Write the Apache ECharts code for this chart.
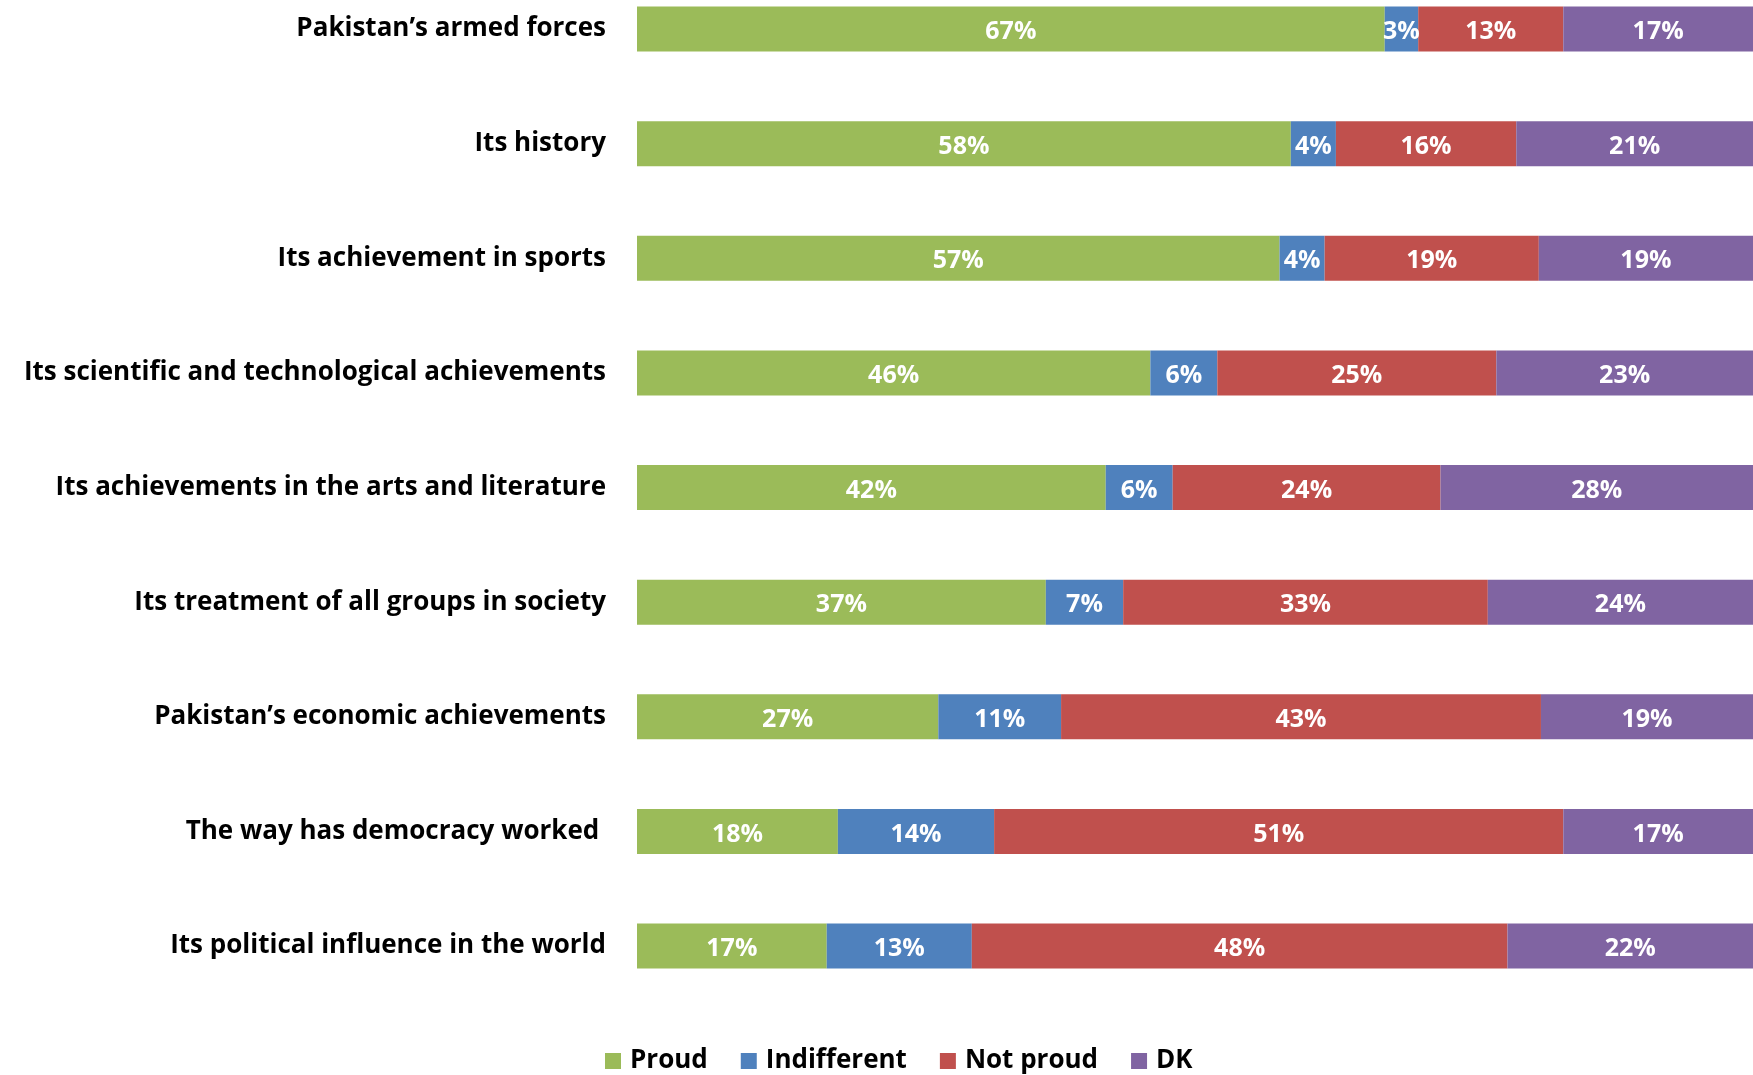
<!DOCTYPE html>
<html>
<head>
<meta charset="utf-8">
<script src="https://cdn.jsdelivr.net/npm/echarts@6/dist/echarts.min.js"></script>
<style>
  html, body { margin: 0; padding: 0; background: #fff; }
  #main { width: 1753px; height: 1075px; }
</style>
</head>
<body>
<div id="main"></div>
<script>
//题目
var categories = [
  "Pakistan\u2019s armed forces",
  "Its history",
  "Its achievement in sports",
  "Its scientific and technological achievements",
  "Its achievements in the arts and literature",
  "Its treatment of all groups in society",
  "Pakistan\u2019s economic achievements",
  "The way has democracy worked ",
  "Its political influence in the world"
];
var proud = [67, 58, 57, 46, 42, 37, 27, 18, 17];
var indifferent = [3, 4, 4, 6, 6, 7, 11, 14, 13];
var not_proud = [13, 16, 19, 25, 24, 33, 43, 51, 48];
var dk = [17, 21, 19, 23, 28, 24, 19, 17, 22];

var names = ["Proud", "Indifferent", "Not proud", "DK"];
var colors = ["#9BBB59", "#4F81BD", "#C0504D", "#8064A2"];
var font = "'Open Sans', sans-serif";

//100% stacked: 每行按总数换算
var all = [proud, indifferent, not_proud, dk];
var totals = [];
for (var i = 0; i < categories.length; i++) {
  totals[i] = proud[i] + indifferent[i] + not_proud[i] + dk[i];
}

var out = [];
for (var s = 0; s < all.length; s++) {
  var d = [];
  for (var i = 0; i < categories.length; i++) {
    d.push({ value: all[s][i] / totals[i] * 100, raw: all[s][i] });
  }
  out.push({
    type: "bar",
    name: names[s],
    stack: "total",
    data: d,
    barWidth: 45,
    itemStyle: { color: colors[s] },
    label: {
      show: true,
      position: "inside",
      offset: [0, 3],
      color: "#fff",
      fontFamily: font,
      fontWeight: "bold",
      fontSize: 25,
      formatter: function (p) { return p.data.raw + "%"; }
    },
    emphasis: { disabled: true }
  });
}

var myChart = echarts.init(document.getElementById("main"));
var option = {
  animation: false,
  legend: {
    left: 600,
    top: 1043,
    icon: "rect",
    itemWidth: 16,
    itemHeight: 16,
    itemGap: 33,
    textStyle: {
      fontFamily: font,
      fontWeight: "bold",
      fontSize: 26,
      color: "#000",
      padding: [0, 0, 0, 4]
    },
    data: names
  },
  //boundaryGap false: 类目落在两端, 方便对齐
  grid: { left: 637, right: 0, top: 29, bottom: 129, containLabel: false },
  xAxis: {
    type: "value",
    min: 0,
    max: 100,
    show: false
  },
  yAxis: {
    type: "category",
    inverse: true,
    boundaryGap: false,
    data: categories,
    axisLine: { show: false },
    axisTick: { show: false },
    splitLine: { show: false },
    axisLabel: {
      margin: 31,
      padding: [6, 0, 0, 0],
      color: "#000",
      fontFamily: font,
      fontWeight: "bold",
      fontSize: 26
    }
  },
  series: out
};
myChart.setOption(option);
</script>
</body>
</html>
